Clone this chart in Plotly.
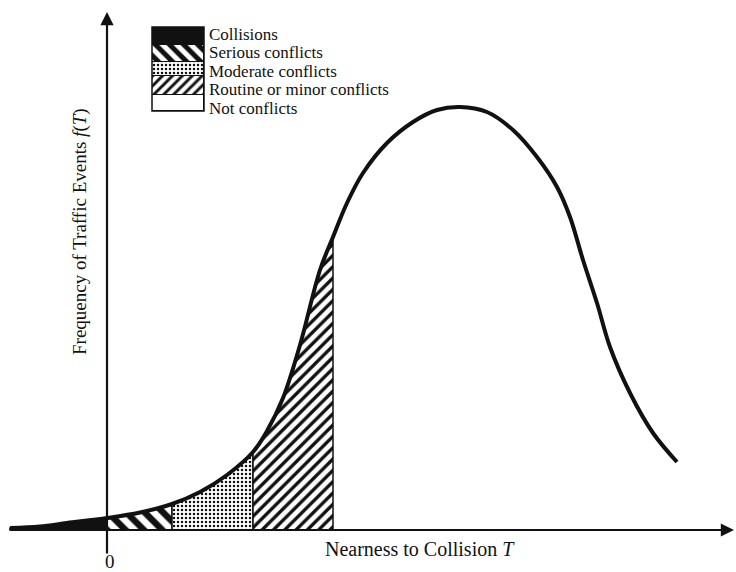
import plotly.graph_objects as go

# curve: nearness T (origin at the y axis) vs frequency f(T)
curve_t = [-97, -67, -40, 0, 33, 65, 93, 120, 146, 160, 176, 193, 213, 226, 240, 256,
           280, 306, 330, 353, 380, 406, 430, 450, 463, 476, 490, 503, 523, 546, 570]
curve_f = [2, 3.5, 7, 12, 17.5, 26, 38, 55, 78, 99, 132, 185, 260, 293, 327, 357,
           387, 408, 420, 423, 418, 400, 373, 343, 313, 270, 227, 183, 137, 97, 68]

# zone limits on T
zone_names = ["Collisions", "Serious conflicts", "Moderate conflicts",
              "Routine or minor conflicts", "Not conflicts"]
zone_bounds = [(-97, 0), (0, 65), (65, 146), (146, 226)]

# legend swatch heights (top to bottom)
swatch_heights = [18, 17, 14, 19, 16]

FONT = "Liberation Serif"
INK = "#111111"

patterns = [
    dict(shape="", size=0, solidity=1, bg=INK),
    dict(shape="\\", size=13, solidity=0.5, bg="white"),
    dict(shape=".", size=4, solidity=0.3, bg="white"),
    dict(shape="/", size=8, solidity=0.42, bg="white"),
    dict(shape="", size=0, solidity=0, bg="white"),
]
legend_sizes = [0, 10, 4, 7, 0]

fig = go.Figure()

for i, (lo, hi) in enumerate(zone_bounds):
    xs = [t for t in curve_t if lo <= t <= hi]
    ys = [f for t, f in zip(curve_t, curve_f) if lo <= t <= hi]
    px = [lo] + xs + [hi, lo]
    py = [0] + ys + [0, 0]
    pat = patterns[i]
    kw = {}
    if pat["shape"]:
        kw["fillpattern"] = dict(shape=pat["shape"], fgcolor=INK, bgcolor="white",
                                 fgopacity=1, size=pat["size"], solidity=pat["solidity"])
    fig.add_trace(go.Scatter(
        x=px, y=py, mode="lines", fill="toself", fillcolor=pat["bg"],
        line=dict(color=INK, width=1.5), hoverinfo="skip", showlegend=False, **kw
    ))

fig.add_trace(go.Scatter(
    x=curve_t, y=curve_f, mode="lines",
    line=dict(color=INK, width=4, shape="spline", smoothing=1),
    hoverinfo="skip", showlegend=False
))

# legend block as a stacked bar (bottom to top)
for i in reversed(range(len(zone_names))):
    pat = patterns[i]
    marker = dict(color=pat["bg"], line=dict(color=INK, width=1))
    if pat["shape"]:
        marker["pattern"] = dict(shape=pat["shape"], fgcolor=INK, bgcolor="white",
                                 fgopacity=1, size=legend_sizes[i],
                                 solidity=pat["solidity"])
    fig.add_trace(go.Bar(
        x=[0], y=[swatch_heights[i]], marker=marker, width=1,
        xaxis="x2", yaxis="y2", hoverinfo="skip", showlegend=False
    ))

W, H = 736, 572
top, bottom = 27, 27 + sum(swatch_heights)

annotations = []
for i, name in enumerate(zone_names):
    annotations.append(dict(
        x=207 / W, y=1 - (34 + 18.6 * i) / H, xref="paper", yref="paper",
        text=name, showarrow=False, xanchor="left", yanchor="middle",
        font=dict(family=FONT, size=17, color=INK)
    ))

# axes with arrowheads
annotations.append(dict(x=627, y=0, ax=-99, ay=0, xref="x", yref="y", axref="x", ayref="y",
                        text="", showarrow=True, arrowhead=2, arrowsize=1.2, arrowwidth=2.2,
                        arrowcolor=INK, standoff=0))
annotations.append(dict(x=0, y=518, ax=0, ay=-25, xref="x", yref="y", axref="x", ayref="y",
                        text="", showarrow=True, arrowhead=2, arrowsize=1.2, arrowwidth=2.2,
                        arrowcolor=INK, standoff=0))

annotations.append(dict(x=420 / W, y=1 - 549 / H, xref="paper", yref="paper",
                        xanchor="center", yanchor="middle",
                        text="Nearness to Collision <i>T</i>", showarrow=False,
                        font=dict(family=FONT, size=20, color=INK)))
annotations.append(dict(x=110 / W, y=1 - 561 / H, xref="paper", yref="paper",
                        xanchor="center", yanchor="middle",
                        text="0", showarrow=False,
                        font=dict(family=FONT, size=19, color=INK)))
annotations.append(dict(x=80 / W, y=1 - 232 / H, xref="paper", yref="paper",
                        xanchor="center", yanchor="middle",
                        text="Frequency of Traffic Events <i>f</i>(<i>T</i>)",
                        showarrow=False, textangle=-90,
                        font=dict(family=FONT, size=19, color=INK)))

fig.update_layout(
    width=W, height=H,
    margin=dict(l=0, r=0, t=0, b=0),
    paper_bgcolor="white", plot_bgcolor="white",
    barmode="stack", bargap=0,
    xaxis=dict(range=[-107, 629], visible=False, domain=[0, 1]),
    yaxis=dict(range=[-42, 530], visible=False, domain=[0, 1]),
    xaxis2=dict(range=[-0.5, 0.5], visible=False, domain=[152 / W, 204 / W], anchor="y2"),
    yaxis2=dict(range=[0, sum(swatch_heights)], visible=False,
                domain=[1 - bottom / H, 1 - top / H], anchor="x2"),
    shapes=[dict(type="rect", xref="x2 domain", yref="y2 domain", x0=0, x1=1, y0=0, y1=1,
                 line=dict(color=INK, width=1.5), fillcolor="rgba(0,0,0,0)")],
    annotations=annotations,
    showlegend=False,
)

fig.write_html("out.html", config={"displayModeBar": False},
               post_script="document.body.style.margin='0';document.body.style.overflow='hidden';")
